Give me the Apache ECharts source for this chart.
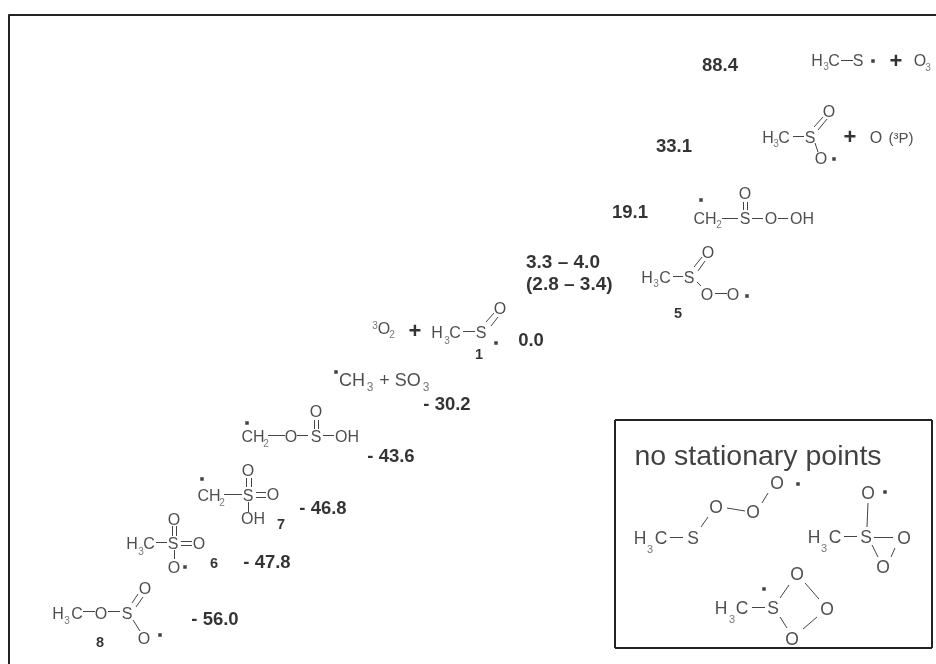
<!DOCTYPE html>
<html><head><meta charset="utf-8">
<style>html,body{margin:0;padding:0;background:#fff}#c{width:936px;height:664px}</style>
<script src="https://cdn.jsdelivr.net/npm/echarts@6/dist/echarts.min.js"></script>
</head><body><div id="c"></div>
<script>
// Relative energies and compound numbers as printed
const energyLabels = ['88.4','33.1','19.1','0.0','- 30.2','- 43.6','- 46.8','- 47.8','- 56.0'];
const energyRange = ['3.3 – 4.0','(2.8 – 3.4)'];
const compoundNumbers = ['1','5','6','7','8'];
const insetTitle = 'no stationary points';

// Layout: a page-wide coordinate system, one pair per text above
const energyAt = [[720,64],[674,145],[630,211],[531,339],[447,403],[391,455],[323,507],[267,561],[215,618]];
const rangeAt = [[526,261],[526,283]];
const numberAt = [[479,353],[678,312],[214,562],[281,523],[100,641]];

// Atom and group symbols: [x, y, text]
const atoms = [
 [817,60,'H'],[834,60,'C'],[858,60,'S'],[920,60,'O'],
 [768,137,'H'],[784,137,'C'],[810,137,'S'],[829,111,'O'],[821,158,'O'],[876,137,'O'],
 [705,218,'CH'],[745,218,'S'],[745,193,'O'],[771,218,'O'],[802,218,'OH'],
 [647,277,'H'],[665,277,'C'],[689,277,'S'],[708,252,'O'],[707,294,'O'],[733,294,'O'],
 [384,328,'O'],[437,332,'H'],[455,332,'C'],[481,332,'S'],[500,308,'O'],
 [253,436,'CH'],[291,436,'O'],[316,436,'S'],[316,411,'O'],[347,436,'OH'],
 [209,495,'CH'],[248,495,'S'],[248,470,'O'],[273,494,'O'],[253,518,'OH'],
 [132,543,'H'],[149,543,'C'],[173,543,'S'],[174,519,'O'],[199,543,'O'],[174,567,'O'],
 [58,613,'H'],[77,613,'C'],[101,613,'O'],[127,613,'S'],[145,588,'O'],[144,638,'O']
];
const insetAtoms = [
 [640,538,'H'],[661,538,'C'],[693,538,'S'],[716,507,'O'],[753,512,'O'],[777,483,'O'],
 [868,493,'O'],[814,537,'H'],[835,537,'C'],[866,537,'S'],[904,538,'O'],[883,567,'O'],
 [797,574,'O'],[721,608,'H'],[742,608,'C'],[773,608,'S'],[792,639,'O'],[827,609,'O']
];
// Subscripts and superscripts
const indices = [
 [826,66,'3'],[928,67,'3'],[776,143,'3'],[719,224,'2'],[656,283,'3'],
 [375,325,'3'],[392,334,'2'],[447,340,'3'],[266,443,'2'],[222,502,'2'],
 [141,551,'3'],[67,620,'3']
];
const insetIndices = [[650,548,'3'],[824,547,'3'],[732,618,'3']];
const largeGroups = [[352,380,'CH'],[400,380,'+ SO']];
const largeIndices = [[370,386,'3'],[426,386,'3']];
const pluses = [[896,60],[850,136],[415,330]];
const stateLabel = [[901,137,'(³P)']];
const radicals = [[873,61],[834,159],[701,200],[747,296],[496,343],[336,372],[247,423],[202,479],[185,567],[160,635],[798,484],[885,492],[764,589]];
// Bonds: [x1, y1, x2, y2]
const bonds = [
 [841,60,853,60],
 [793,136,804,136],[814,127,823,117],[818,130,827,119],[815,143,818,152],
 [722,218,738,218],[743.5,202,743.5,210],[747.5,202,747.5,210],[752,218,763,218],[778,218,788,218],
 [673,276,683,276],[694,267,702,257],[698,271,705,261],[697,282,701,286],[715,293,727,293],
 [463,331,475,331],[486,322,494,313],[491,326,498,317],
 [268,435,285,435],[297,435,308,435],[314,420,314,429],[318,420,318,429],[323,435,334,435],
 [224,494,242,494],[246,478,246,487],[251,478,251,487],[256,492,266,492],[256,497,266,497],[248,502,248,512],
 [156,542,167,542],[172,526,172,536],[176,526,176,536],[181,541,192,541],[181,545,192,545],[174,550,174,559],
 [83,611,95,611],[108,611,120,611],[132,603,138,594],[136,607,143,597],[133,620,140,631],
 [670,537,683,537],[701,527,708,517],[727,508,745,511],[762,503,768,493],
 [868,503,867,527],[844,536,857,536],[874,537,893,537],[895,548,891,557],[872,545,878,557],
 [780,598,789,585],[752,607,765,607],[780,617,787,628],[803,629,817,617],[805,583,819,599]
];
const frames = [
 [8.5,14.5,936,14.5],[8.5,14.5,8.5,664],
 [615,420,932,420],[932,420,932,648],[932,648,615,648],[615,648,615,420]
];

const FONT = '"Liberation Sans", Arial, sans-serif';
const TEXT_DROP = 1.5;
function textSeries(items, style, align) {
  return { type:'scatter', symbol:'circle', symbolSize:1, silent:true,
    itemStyle:{color:'rgba(255,255,255,0)'},
    data: items.map(d => ({ value:[d[0],d[1]+TEXT_DROP], name:d[2] })),
    labelLayout:{hideOverlap:false},
    label:{ show:true, position:'inside', align:align||'center', verticalAlign:'middle',
      fontFamily:FONT, formatter:p=>p.name, ...style } };
}
const chart = echarts.init(document.getElementById('c'), null, {renderer:'canvas'});
const zip = (at, txt) => at.map((a,i)=>[a[0],a[1],txt[i]]);
const bold = {fontWeight:'bold', color:'#000'};
chart.setOption({
  animation:false, backgroundColor:'#fff',
  grid:{left:0,right:0,top:0,bottom:0},
  xAxis:{type:'value',min:0,max:936,show:false},
  yAxis:{type:'value',min:0,max:664,inverse:true,show:false},
  series:[
    {type:'lines',coordinateSystem:'cartesian2d',silent:true,
      data:bonds.map(b=>({coords:[[b[0],b[1]],[b[2],b[3]]]})),
      lineStyle:{color:'#444',width:1,opacity:1,curveness:0}},
    {type:'lines',coordinateSystem:'cartesian2d',silent:true,
      data:frames.map(b=>({coords:[[b[0],b[1]],[b[2],b[3]]]})),
      lineStyle:{color:'#222',width:2,opacity:1,curveness:0}},
    {type:'scatter',symbol:'rect',symbolSize:3.5,silent:true,data:radicals,itemStyle:{color:'#111'}},
    textSeries(atoms,{fontSize:16,color:'#222'}),
    textSeries(insetAtoms,{fontSize:17.5,color:'#222'}),
    textSeries(indices,{fontSize:10,color:'#555'}),
    textSeries(insetIndices,{fontSize:11,color:'#555'}),
    textSeries(largeGroups,{fontSize:18,color:'#222'}),
    textSeries(largeIndices,{fontSize:12,color:'#555'}),
    textSeries(pluses.map(p=>[p[0],p[1],'+']),{fontSize:22,...bold}),
    textSeries(stateLabel,{fontSize:15,color:'#222'}),
    textSeries(zip(energyAt,energyLabels),{fontSize:18.5,...bold}),
    textSeries(zip(rangeAt,energyRange),{fontSize:19,...bold},'left'),
    textSeries(zip(numberAt,compoundNumbers),{fontSize:14.5,...bold}),
    textSeries([[758,456,insetTitle]],{fontSize:28.5,color:'#111'})
  ]
});
</script></body></html>
